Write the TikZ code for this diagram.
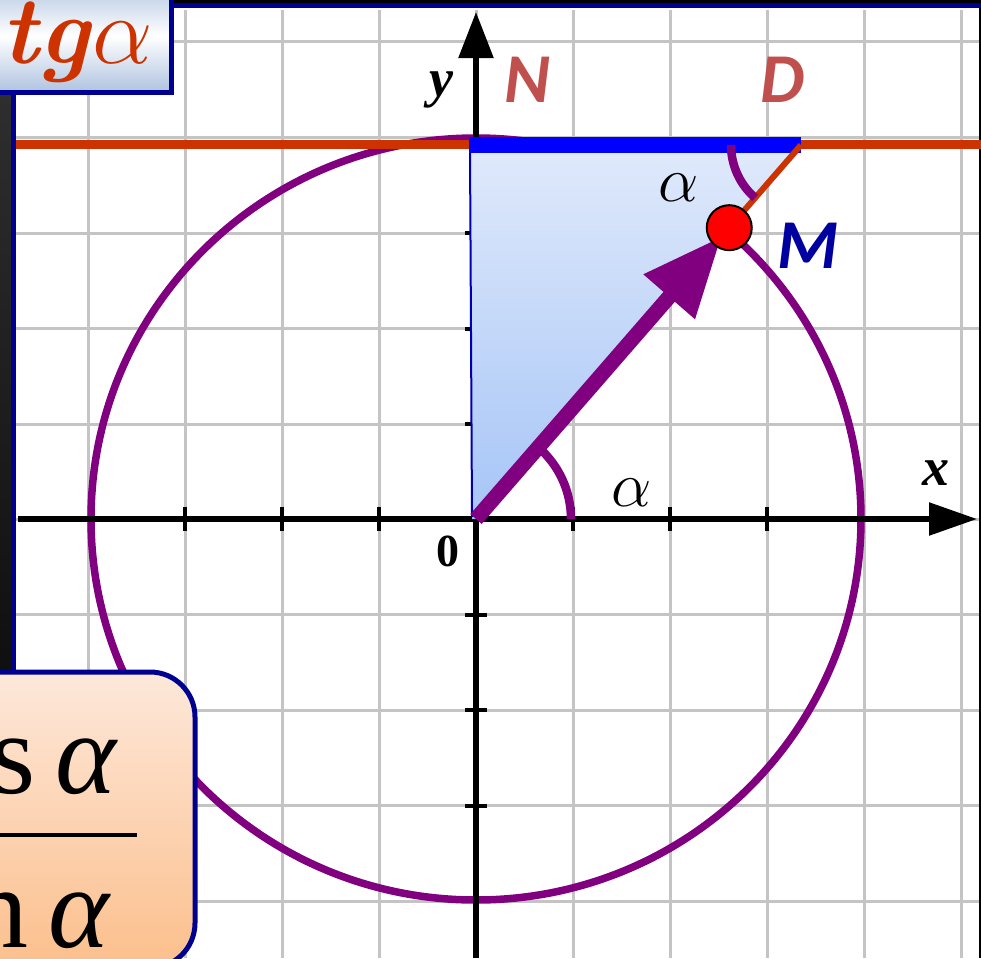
\documentclass[tikz,border=0pt]{standalone}
\usepackage{fix-cm}
\usepackage{fontspec}
\newfontfamily\carl{Carlito}
\newfontfamily\tms{Liberation Serif}
\usetikzlibrary{arrows.meta,calc}
\definecolor{navy}{HTML}{000090}
\definecolor{purp}{HTML}{800080}
\definecolor{orng}{HTML}{CC3300}
\definecolor{gridc}{HTML}{C4C4C4}
\definecolor{ndcol}{HTML}{C0504D}
\definecolor{mcol}{HTML}{0000A0}
\definecolor{tritop}{HTML}{DFE9FB}
\definecolor{tribot}{HTML}{A6C5F7}
\definecolor{ttop}{HTML}{AFC3E0}
\definecolor{ftop}{HTML}{FDE8DA}
\definecolor{fbot}{HTML}{FCBF8C}
\tikzset{
  gridline/.style={gridc, line width=3pt},
  axisline/.style={black, line width=5.5pt},
  tick/.style={black, line width=4pt},
  purparc/.style={purp, line width=8.5pt},
  lbl/.style={inner sep=0pt, outer sep=0pt},
  ndlbl/.style={lbl, ndcol, font=\carl\bfseries\itshape\fontsize{70}{70}\selectfont},
  alab/.style={lbl, font=\fontsize{64}{64}\selectfont},
}
\begin{document}
\begin{tikzpicture}[x=1pt,y=-1pt]
\useasboundingbox (0,0) rectangle (981,958);
% background frame
\fill[black] (0,0) rectangle (981,958);
\shade[top color=black!80!white, bottom color=black] (0,0) rectangle (11,958);
\fill[white] (16,8) rectangle (979,958);
\draw[navy, line width=5pt] (13.5,958) -- (13.5,5.5) -- (981,5.5);
% grid
\foreach \gx in {88,185,282,379,476,573,670,767,864,961}
  \draw[gridline] (\gx,10) -- (\gx,958);
\foreach \gy in {42,137.5,233,328.5,424,519,614.5,710,805.5,901}
  \draw[gridline] (16,\gy) -- (979,\gy);
% circle
\draw[purp, line width=7.5pt] (476,519) ellipse [x radius=385, y radius=381];
% coordinates
\coordinate (O) at (476,519);
\coordinate (N) at (469,145);
\coordinate (D) at (801,145);
\coordinate (M) at ($(476,519)+(-49:386)$);
\coordinate (xs) at (18,519);
\coordinate (xe) at (977,519);
\coordinate (ys) at (476,958);
\coordinate (ye) at (476,12);
\coordinate (Lw) at (16,144);
\coordinate (Le) at (981,144);
% axes
\draw[axisline, -{Triangle[length=48pt,width=32pt]}] (xs) -- (xe);
\draw[axisline, -{Triangle[length=46pt,width=34pt]}] (ys) -- (ye);
\foreach \tx in {185,282,379,573,670,767}
  \draw[tick] (\tx,507) -- (\tx,531);
\foreach \ty in {233,328.5,424,614.5,710,805.5}
  \draw[tick] (465,\ty) -- (487,\ty);
% triangle
\shade[top color=tritop, bottom color=tribot] (470,150) -- (801,150) -- (476,519) -- (472,519) -- cycle;
\draw[blue!70!black, line width=2pt] (470,150) -- (472,517);
% tangent line
\draw[orng, line width=9pt] (Lw) -- (Le);
\draw[blue, line width=16pt] (N) -- (D);
\draw[orng, line width=6pt] (D) -- (M);
% angle arcs
\draw[purparc] (O) ++(0:95) arc[start angle=0, end angle=-49, radius=95];
\draw[purparc] (D) ++(180:70) arc[start angle=180, end angle=131, radius=70];
% vector
\draw[purp, line width=15pt, -{Triangle[length=80pt,width=64pt]}] (O) -- ($(O)!0.97!(M)$);
\node[circle, fill=red, draw=black, line width=2pt, minimum size=45pt, inner sep=0pt] (Mdot) at (M) {};
% labels
\node[lbl, font=\tms\bfseries\itshape\fontsize{54}{54}\selectfont] (ylab) at (441,90) {y};
\node[lbl, font=\tms\bfseries\itshape\fontsize{54}{54}\selectfont] (xlab) at (936,473) {x};
\node[lbl, font=\tms\bfseries\fontsize{46}{46}\selectfont] (zlab) at (448,551) {0};
\node[ndlbl] (Nlab) at (527,80) {N};
\node[ndlbl] (Dlab) at (783,80) {D};
\node[lbl, mcol, font=\carl\bfseries\itshape\fontsize{70}{70}\selectfont] (Mlab) at (808,246) {M};
\node[alab] (a1) at (679,188) {$\alpha$};
\node[alab] (a2) at (632,493) {$\alpha$};
% title box
\draw[navy, line width=5pt, top color=ttop, bottom color=ttop, middle color=white] (-20,-20) rectangle (171,92);
\node[lbl, orng, font=\fontsize{96}{96}\selectfont, anchor=center] (title) at (77,42) {\textbf{\textit{tg}}$\alpha$};
% fraction box
\draw[navy, line width=5pt, rounded corners=45pt, top color=ftop, bottom color=fbot] (-60,672) rectangle (195,968);
\node[lbl, anchor=base east, font=\tms\fontsize{116}{116}\selectfont] (num) at (118,793) {cos\,\textit{α}};
\node[lbl, anchor=base east, font=\tms\fontsize{116}{116}\selectfont] (den) at (111,947) {sin\,\textit{α}};
\draw[black, line width=4pt] (-5,835) -- (137,835);
\end{tikzpicture}
\end{document}
